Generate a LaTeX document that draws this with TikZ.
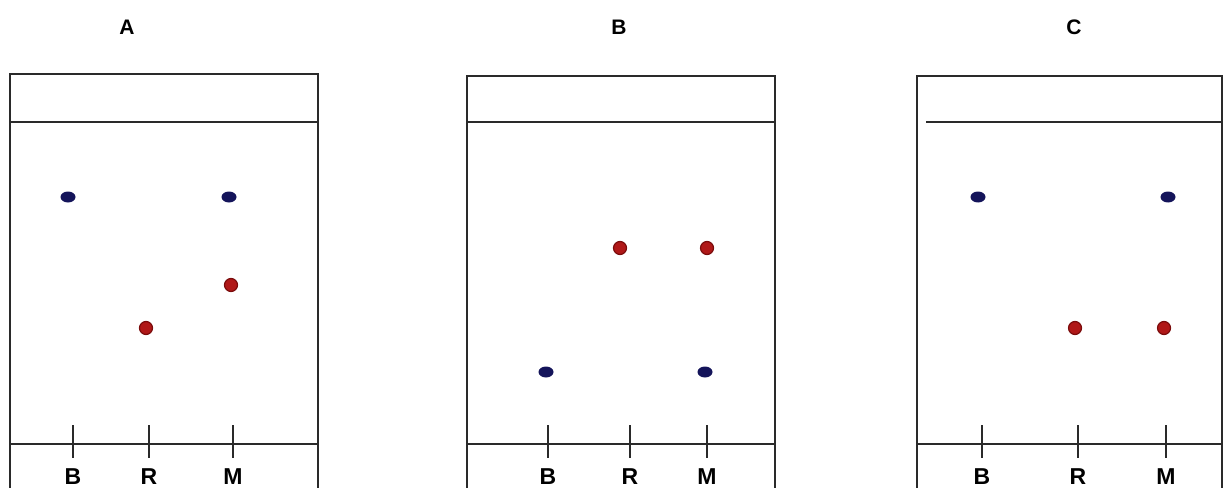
\documentclass[tikz,border=0pt]{standalone}
\usepackage{fontspec}
\setmainfont{Liberation Sans}
\definecolor{spotblue}{HTML}{14145A}
\definecolor{spotred}{HTML}{B01818}
\definecolor{spotredrim}{HTML}{7A0C0C}
\definecolor{plateline}{HTML}{2A2A2A}
\tikzset{
  plateedge/.style={draw=plateline, line width=2.3pt},
  tickmark/.style={draw=plateline, line width=2.6pt},
  lanelabel/.style={font=\fontsize{23}{23}\selectfont\bfseries, anchor=base, inner sep=0pt},
  platetitle/.style={font=\fontsize{21}{21}\selectfont\bfseries, inner sep=0pt},
  bluespot/.style={ellipse, fill=spotblue, minimum width=15pt, minimum height=11pt, inner sep=0pt},
  redspot/.style={circle, fill=spotred, draw=spotredrim, line width=1.2pt, minimum size=13pt, inner sep=0pt},
}
\usetikzlibrary{shapes.geometric}
\begin{document}
\begin{tikzpicture}[x=1pt,y=-1pt]
\useasboundingbox (0,0) rectangle (1225,487);
\fill[white] (0,0) rectangle (1225,487);

% ---------- Plate A ----------
\node[platetitle] (tA) at (127,27) {A};
\draw[plateedge] (10,492) -- (10,74) -- (318,74) -- (318,492);
\draw[plateedge] (10,122) -- (318,122);
\draw[plateedge] (10,444) -- (318,444);
\foreach \x/\l/\n in {73/B/Ab,149/R/Ar,233/M/Am}{
  \draw[tickmark] (\x,425) -- (\x,458);
  \node[lanelabel] (\n) at (\x,484) {\l};
}
\node[bluespot] (Ab1) at (68,197) {};
\node[bluespot] (Am1) at (229,197) {};
\node[redspot]  (Am2) at (231,285) {};
\node[redspot]  (Ar1) at (146,328) {};

% ---------- Plate B ----------
\node[platetitle] (tB) at (619,27) {B};
\draw[plateedge] (467,492) -- (467,76) -- (775,76) -- (775,492);
\draw[plateedge] (467,122) -- (775,122);
\draw[plateedge] (467,444) -- (775,444);
\foreach \x/\l/\n in {548/B/Bb,630/R/Br,707/M/Bm}{
  \draw[tickmark] (\x,425) -- (\x,458);
  \node[lanelabel] (\n) at (\x,484) {\l};
}
\node[redspot]  (Br1) at (620,248) {};
\node[redspot]  (Bm1) at (707,248) {};
\node[bluespot] (Bb1) at (546,372) {};
\node[bluespot] (Bm2) at (705,372) {};

% ---------- Plate C ----------
\node[platetitle] (tC) at (1074,27) {C};
\draw[plateedge] (917,492) -- (917,76) -- (1222,76) -- (1222,492);
\draw[plateedge] (926,122) -- (1222,122);
\draw[plateedge] (917,444) -- (1222,444);
\foreach \x/\l/\n in {982/B/Cb,1078/R/Cr,1166/M/Cm}{
  \draw[tickmark] (\x,425) -- (\x,458);
  \node[lanelabel] (\n) at (\x,484) {\l};
}
\node[bluespot] (Cb1) at (978,197) {};
\node[bluespot] (Cm1) at (1168,197) {};
\node[redspot]  (Cr1) at (1075,328) {};
\node[redspot]  (Cm2) at (1164,328) {};
\end{tikzpicture}
\end{document}
